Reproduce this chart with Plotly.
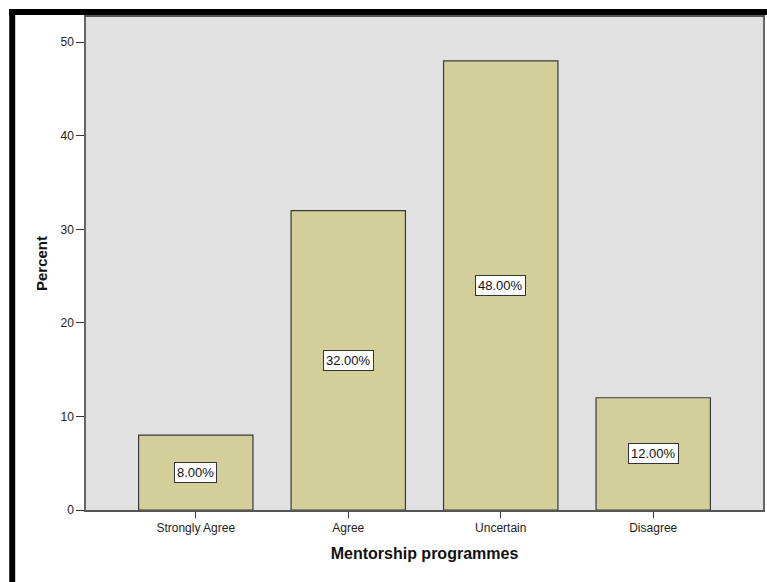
import plotly.graph_objects as go

categories = ["Strongly Agree", "Agree", "Uncertain", "Disagree"]
percent = [8.0, 32.0, 48.0, 12.0]
y_ticks = [0, 10, 20, 30, 40, 50]

W, H = 767, 582
L, R, T, B = 86, 2, 17, 72
pw, ph = W - L - R, H - T - B

fig = go.Figure()
fig.add_trace(go.Bar(
    x=categories,
    y=percent,
    marker=dict(color="#d3cf9b", line=dict(color="#3a3a3a", width=1.2)),
    width=0.75,
    hoverinfo="x+y",
))

# value labels in white boxes at mid-height of each bar
for c, v in zip(categories, percent):
    fig.add_annotation(
        x=c, y=v / 2, text=f"{v:.2f}%", showarrow=False,
        font=dict(family="Liberation Sans, Arial, sans-serif", size=13, color="#111"),
        bgcolor="white", bordercolor="#333", borderwidth=1, borderpad=2,
    )

def px_x(p):
    return (p - L) / pw

def px_y(p):
    return 1 - (p - T) / ph

# thick black frame along the top and left edges
fig.add_shape(type="rect", xref="paper", yref="paper",
              x0=px_x(9), x1=px_x(W + 5), y0=px_y(15), y1=px_y(9),
              fillcolor="black", line=dict(width=0), layer="above")
fig.add_shape(type="rect", xref="paper", yref="paper",
              x0=px_x(9), x1=px_x(15), y0=px_y(H + 5), y1=px_y(9),
              fillcolor="black", line=dict(width=0), layer="above")

fig.update_layout(
    width=W, height=H,
    margin=dict(l=L, r=R, t=T, b=B, pad=0),
    paper_bgcolor="white",
    plot_bgcolor="#e1e1e1",
    showlegend=False,
    font=dict(family="Liberation Sans, Arial, sans-serif", size=12, color="#222"),
    bargap=0.25,
)
fig.update_xaxes(
    range=[-0.72, 3.72],
    showgrid=False, zeroline=False,
    showline=True, linecolor="#555", linewidth=1.5, mirror=True,
    ticks="outside", ticklen=6, tickcolor="#333", tickwidth=1.2,
    tickfont=dict(size=12, color="#222"),
    title=dict(text="<b>Mentorship programmes</b>", font=dict(size=16, color="#111"), standoff=14),
)
fig.update_yaxes(
    range=[0, 52.7],
    tickvals=y_ticks,
    showgrid=False, zeroline=False,
    showline=True, linecolor="#666", linewidth=1.5, mirror=True,
    ticks="outside", ticklen=8, tickcolor="#333", tickwidth=1.2,
    tickfont=dict(size=12, color="#222"),
    title=dict(text="<b>Percent</b>", font=dict(size=15, color="#111"), standoff=9),
)

fig.write_html("out.html")
